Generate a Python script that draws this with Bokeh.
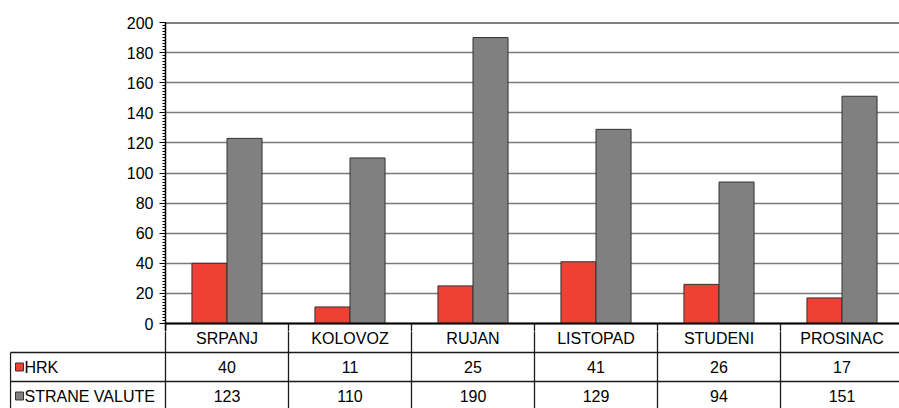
from bokeh.plotting import figure
from bokeh.models import Range1d, FixedTicker, ColumnDataSource, Span
from bokeh.core.properties import value
from bokeh.embed import file_html
from bokeh.resources import INLINE

# ---- data ----
months = ["SRPANJ", "KOLOVOZ", "RUJAN", "LISTOPAD", "STUDENI", "PROSINAC"]
hrk = [40, 11, 25, 41, 26, 17]
strane = [123, 110, 190, 129, 94, 151]
series_names = ["HRK", "STRANE VALUTE"]
y_ticks = list(range(0, 201, 20))
y_minor = list(range(0, 201, 2))

# ---- style / layout constants ----
RED = "#EE4136"
GRAY = "#808080"
FONT = "Liberation Sans"
FS = "16px"
PX_CAT = 123.0          # pixels per category column
W = 899
FRAME_LEFT = 165        # canvas px of chart frame left
TOP = 22
PLOT_PX = 301.0         # px for y 0..200
EXTRA = 8               # px of chart frame below zero
TB_H = 77
ROW_PX = 29.0
BAR_W = 0.285
LINE = "#1a1a1a"
TAB_LEFT = 10           # px of table left border

xs = list(range(len(months)))
x_start = -0.5
x_end = -0.5 + (W - FRAME_LEFT) / PX_CAT
y_max = y_ticks[-1]
y_lo = -EXTRA * y_max / PLOT_PX
bounds = [x - 0.5 for x in xs] + [xs[-1] + 0.5]

# ---- chart ----
p = figure(width=W, height=int(TOP + PLOT_PX + EXTRA), output_backend="svg",
           toolbar_location=None,
           x_range=Range1d(x_start, x_end), y_range=Range1d(y_lo, y_max),
           min_border_left=FRAME_LEFT, min_border_top=TOP, min_border_bottom=0,
           min_border_right=0, x_axis_type=None)
p.outline_line_color = None
p.xgrid.visible = False
p.ygrid.ticker = FixedTicker(ticks=y_ticks)
p.ygrid.grid_line_color = "#7a7a7a"
p.ygrid.grid_line_width = 1.6

yax = p.yaxis[0]
yax.ticker = FixedTicker(ticks=y_ticks, minor_ticks=y_minor)
yax.axis_line_color = "black"
yax.axis_line_width = 1.5
yax.major_tick_line_color = "black"
yax.minor_tick_line_color = "black"
yax.major_tick_out = 6
yax.major_tick_in = 0
yax.minor_tick_out = 3
yax.minor_tick_in = 0
yax.major_label_standoff = 6
yax.major_label_text_font = FONT
yax.major_label_text_font_size = FS
yax.major_label_text_color = "black"

p.add_layout(Span(location=y_max, dimension="width", line_color="black", line_width=2))
p.add_layout(Span(location=y_ticks[0], dimension="width", line_color="black", line_width=1.8))
# column separators running down into the table header row
p.segment(x0=bounds, y0=[y_ticks[0]] * len(bounds), x1=bounds, y1=[y_lo - 1] * len(bounds),
          line_color=LINE, line_width=1.3)

src = ColumnDataSource(dict(
    x_h=[x - BAR_W / 2 for x in xs],
    x_s=[x + BAR_W / 2 for x in xs],
    hrk=hrk, strane=strane))
p.vbar(x="x_h", top="hrk", width=BAR_W, source=src, fill_color=RED,
       line_color="#333333", line_width=1)
p.vbar(x="x_s", top="strane", width=BAR_W, source=src, fill_color=GRAY,
       line_color="#333333", line_width=1)

# ---- table ----
lab_left = -0.5 - (FRAME_LEFT - TAB_LEFT) / PX_CAT
ty_end = 3 - EXTRA / ROW_PX
ty_start = ty_end - TB_H / ROW_PX
t = figure(width=W, height=TB_H, output_backend="svg", toolbar_location=None,
           x_range=Range1d(-0.5 - (FRAME_LEFT - TAB_LEFT + 1) / PX_CAT, x_end),
           y_range=Range1d(ty_start, ty_end),
           min_border_left=TAB_LEFT - 1, min_border_top=0, min_border_bottom=0,
           min_border_right=0, x_axis_type=None, y_axis_type=None)
t.outline_line_color = None
t.xgrid.visible = False
t.ygrid.visible = False

x0 = [lab_left, lab_left, lab_left] + bounds
x1 = [x_end + 1, x_end + 1, lab_left] + bounds
y0 = [2, 1, 2] + [ty_end + 1] * len(bounds)
y1 = [2, 1, ty_start - 1] + [ty_start - 1] * len(bounds)
t.segment(x0=x0, y0=y0, x1=x1, y1=y1, line_color=LINE, line_width=1.3)

common = dict(text_baseline="middle", text_font=value(FONT),
              text_font_size=FS, text_color="black")
t.text(x=xs, y=[2.5] * len(xs), text=months, text_align="center", **common)
t.text(x=xs, y=[1.5] * len(xs), text=[str(v) for v in hrk], text_align="center", **common)
t.text(x=xs, y=[0.5] * len(xs), text=[str(v) for v in strane], text_align="center", **common)

t.scatter(x=[lab_left + 9 / PX_CAT] * 2, y=[1.5, 0.5], marker="square", size=8,
          fill_color=[RED, GRAY], line_color="#333333", line_width=1)
t.text(x=[lab_left + 14 / PX_CAT] * 2, y=[1.5, 0.5], text=series_names,
       text_align="left", **common)

open("out.html", "w").write(file_html([p, t], INLINE))
